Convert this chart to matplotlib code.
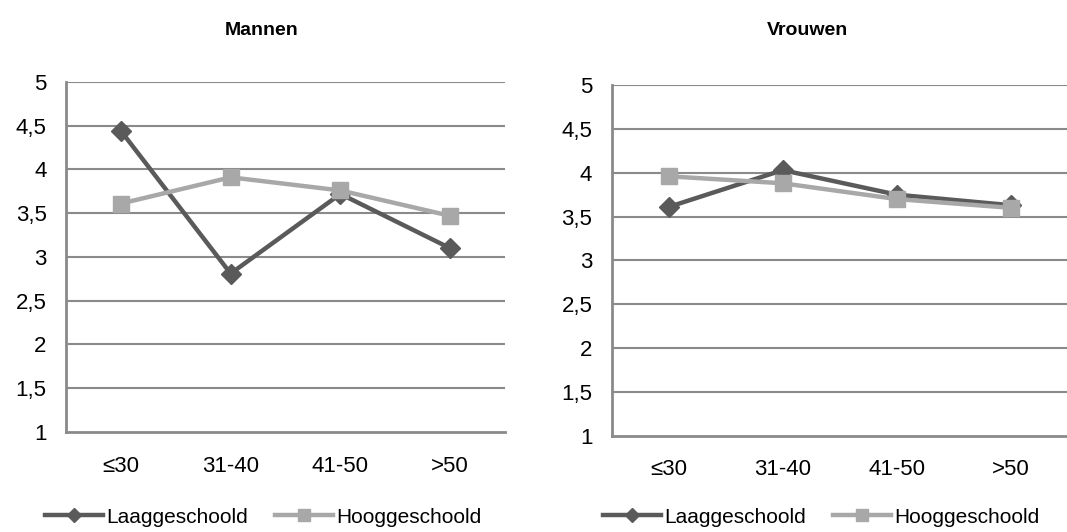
import matplotlib
matplotlib.use("Agg")
import matplotlib.pyplot as plt

categories = ["≤30", "31-40", "41-50", ">50"]
mannen_laag = [4.44, 2.81, 3.72, 3.10]
mannen_hoog = [3.61, 3.91, 3.76, 3.47]
vrouwen_laag = [3.61, 4.03, 3.75, 3.63]
vrouwen_hoog = [3.96, 3.88, 3.70, 3.60]
yticks = [1, 1.5, 2, 2.5, 3, 3.5, 4, 4.5, 5]
ytick_labels = ["1", "1,5", "2", "2,5", "3", "3,5", "4", "4,5", "5"]
series_names = ["Laaggeschoold", "Hooggeschoold"]

plt.rcParams['font.family'] = ['Liberation Sans', 'DejaVu Sans']

DARK = "#5a5a5a"
LIGHT = "#a8a8a8"
GRID = "#8a8a8a"

fig = plt.figure(figsize=(10.67, 5.32), dpi=100)

panels = [
    ("Mannen", mannen_laag, mannen_hoog, [0.0619, 0.188, 0.4114, 0.658], 0.245, 0.042),
    ("Vrouwen", vrouwen_laag, vrouwen_hoog, [0.5733, 0.181, 0.4274, 0.659], 0.757, 0.565),
]

for title, laag, hoog, rect, tx, legx in panels:
    ax = fig.add_axes(rect)
    x = list(range(len(categories)))
    l1, = ax.plot(x, laag, color=DARK, lw=3.2, marker="D", ms=10, zorder=3)
    l2, = ax.plot(x, hoog, color=LIGHT, lw=3.2, marker="s", ms=12, zorder=3)
    ax.set_xlim(-0.5, 3.5)
    ax.set_ylim(1, 5)
    ax.set_yticks(yticks)
    ax.set_yticklabels(ytick_labels)
    ax.set_xticks(x)
    ax.set_xticklabels(categories)
    ax.tick_params(axis="both", length=0, labelsize=16, colors="black")
    ax.tick_params(axis="y", pad=14)
    ax.tick_params(axis="x", pad=17)
    for yv in yticks[1:]:
        ax.axhline(yv, color=GRID, lw=1.5, zorder=1)
    for s in ["top", "right"]:
        ax.spines[s].set_visible(False)
    for s in ["left", "bottom"]:
        ax.spines[s].set_color(GRID)
        ax.spines[s].set_linewidth(2)
    fig.text(tx, 0.943, title, ha="center", va="center", fontsize=14,
             fontweight="bold")
    fig.legend([l1, l2], series_names, loc="center left",
               bbox_to_anchor=(legx, 0.028), ncol=2, frameon=False,
               fontsize=15, handlelength=2.8, handletextpad=0.15,
               columnspacing=1.3, borderaxespad=0, borderpad=0,
               markerscale=0.75)

fig.savefig("out.png", dpi=100)
